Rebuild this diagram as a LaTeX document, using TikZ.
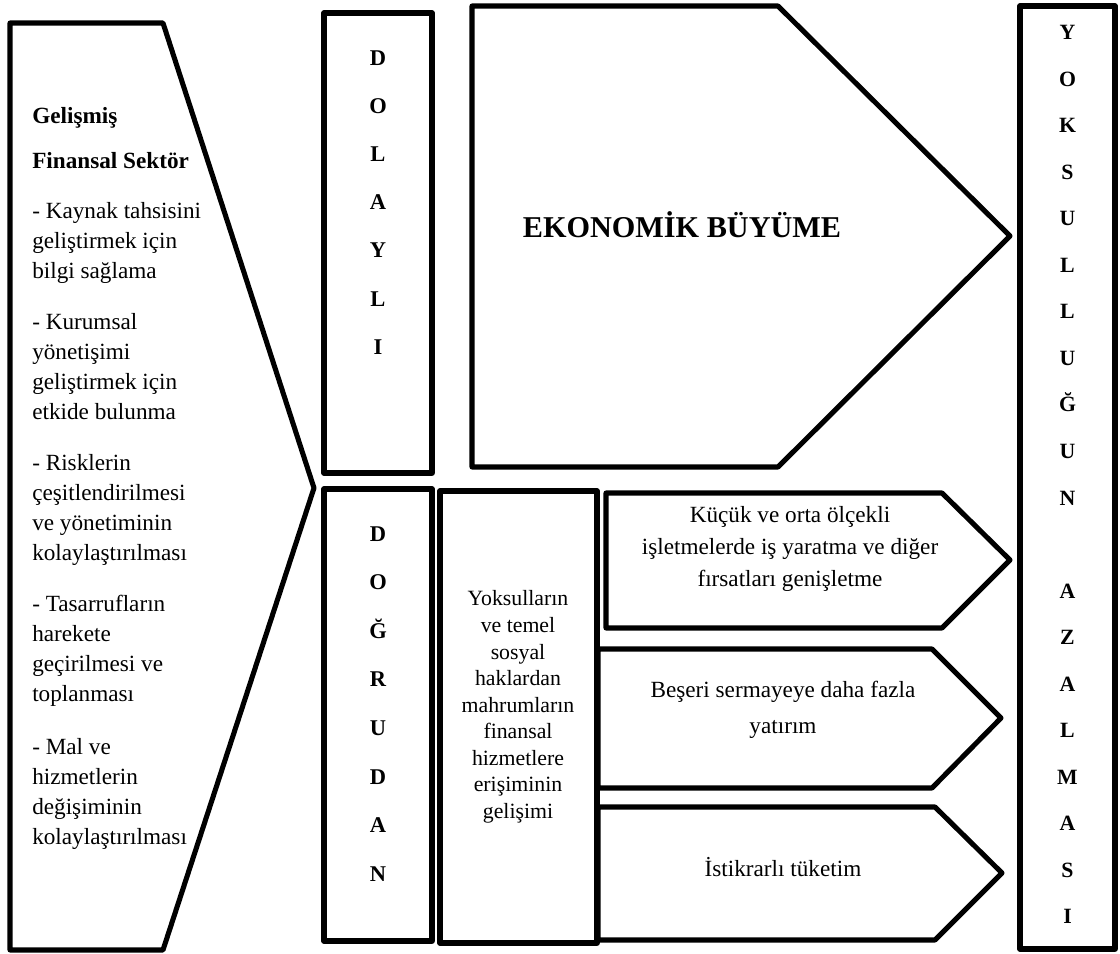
\documentclass[tikz,border=0pt]{standalone}
\usepackage{fontspec}
\setmainfont{Liberation Serif}
\usetikzlibrary{positioning,fit}
\tikzset{
  frame/.style={
    draw=black, line width=3.6pt, line join=round, inner sep=0pt
  },
  %
  spelled/.style={
    font=\bfseries\fontsize{16}{34.3}\selectfont, align=center,
    inner sep=0pt, anchor=north
  },
  %
  bodytext/.style={
    font=\fontsize{16.5}{21.3}\selectfont, inner sep=0pt
  }
}

\begin{document}
\begin{tikzpicture}[x=0.025cm, y=-0.025cm]
\useasboundingbox (0,0) rectangle (1120,954);

% financial sector
\draw[frame] (10,23) -- (163,23) -- (314,488) -- (163,950) -- (10,950) -- cycle;
\node(sector)[bodytext, anchor=north west, align=left] at (32,107) {
    \textbf{Gelişmiş}\\[11pt]
    \textbf{Finansal Sektör}\\[14pt]
    - Kaynak tahsisini\\ geliştirmek için\\ bilgi sağlama\\[15pt]
    - Kurumsal\\ yönetişimi\\ geliştirmek için\\ etkide bulunma\\[15pt]
    - Risklerin\\ çeşitlendirilmesi\\ ve yönetiminin\\ kolaylaştırılması\\[15pt]
    - Tasarrufların\\ harekete\\ geçirilmesi ve\\ toplanması\\[17pt]
    - Mal ve\\ hizmetlerin\\ değişiminin\\ kolaylaştırılması
};

% channels
\node(indirect)[frame, fit={(324,13) (432,473)}]{};
\node(indirecttxt)[spelled] at (378,50) {D\\O\\L\\A\\Y\\L\\I};

\node(direct)[frame, fit={(324,489) (432,941)}]{};
\node(directtxt)[spelled, font=\bfseries\fontsize{16}{34.6}\selectfont] at (378,526) {D\\O\\Ğ\\R\\U\\D\\A\\N};

\node(access)[frame, fit={(440,491) (597,943)}]{};
\node(accesstxt)[bodytext, align=center, font=\fontsize{15.5}{18.9}\selectfont] at (518,707) {
    Yoksulların\\ ve temel\\ sosyal\\ haklardan\\ mahrumların\\ finansal\\ hizmetlere\\ erişiminin\\ gelişimi
};

% growth
\draw[frame] (472,6) -- (778,6) -- (1010,236) -- (778,467) -- (472,467) -- cycle;
\node(growth)[bodytext, font=\bfseries\fontsize{21.5}{26}\selectfont] at (682,225) {EKONOMİK BÜYÜME};

% direct effects
\draw[frame] (606,493) -- (942,493) -- (1010,560) -- (942,628) -- (606,628) -- cycle;
\node(jobs)[bodytext, align=center, font=\fontsize{16.5}{22.5}\selectfont] at (790,549) {
    Küçük ve orta ölçekli\\ işletmelerde iş yaratma ve diğer\\ fırsatları genişletme
};

\draw[frame] (598,649) -- (932,649) -- (1001,718) -- (932,788) -- (598,788) -- cycle;
\node(human)[bodytext, align=center, font=\fontsize{16.5}{25.6}\selectfont] at (783,710) {
    Beşeri sermayeye daha fazla\\ yatırım
};

\draw[frame] (598,807) -- (935,807) -- (1002,873) -- (935,940) -- (598,940) -- cycle;
\node(consume)[bodytext] at (783,867) {İstikrarlı tüketim};

% poverty
\node(poverty)[frame, fit={(1020,6) (1115,949)}]{};
\node(povertytxt)[spelled, font=\bfseries\fontsize{15.5}{33.1}\selectfont] at (1067.5,25) {
    Y\\O\\K\\S\\U\\L\\L\\U\\Ğ\\U\\N\\[33.1pt]A\\Z\\A\\L\\M\\A\\S\\I
};

\end{tikzpicture}
\end{document}
